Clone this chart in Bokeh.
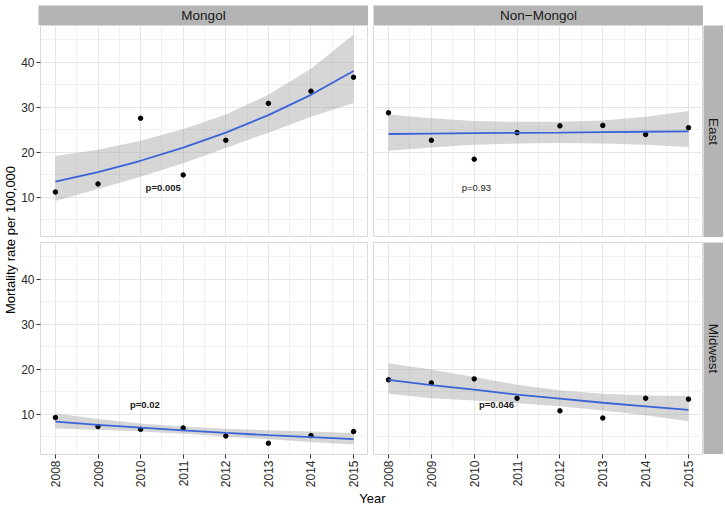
import math
from bokeh.plotting import figure
from bokeh.layouts import row, column
from bokeh.models import Range1d, FixedTicker, Grid, Label, LinearAxis
from bokeh.embed import file_html
from bokeh.resources import INLINE

# ---------------- data ----------------
years = [2008, 2009, 2010, 2011, 2012, 2013, 2014, 2015]

mongol_east = [11.2, 13.0, 27.6, 15.0, 22.7, 30.9, 33.6, 36.7]
mongol_east_fit = [13.5, 15.65, 18.15, 21.05, 24.4, 28.3, 32.8, 38.1]
mongol_east_lo = [9.2, 11.9, 14.6, 17.6, 21.0, 24.4, 27.9, 31.0]
mongol_east_hi = [19.2, 20.6, 22.6, 25.2, 28.4, 32.8, 38.6, 46.2]

nonmongol_east = [28.8, 22.7, 18.5, 24.4, 25.9, 26.0, 24.0, 25.5]
nonmongol_east_fit = [24.1, 24.2, 24.3, 24.35, 24.4, 24.5, 24.6, 24.7]
nonmongol_east_lo = [20.4, 21.1, 21.7, 22.0, 22.1, 22.0, 21.7, 21.2]
nonmongol_east_hi = [28.4, 27.6, 27.0, 26.8, 26.8, 27.1, 27.9, 29.2]

mongol_midwest = [9.3, 7.3, 6.7, 7.0, 5.2, 3.6, 5.3, 6.2]
mongol_midwest_fit = [8.4, 7.7, 7.05, 6.45, 5.9, 5.4, 4.95, 4.5]
mongol_midwest_lo = [6.9, 6.6, 6.2, 5.7, 5.1, 4.5, 3.9, 3.3]
mongol_midwest_hi = [10.2, 9.0, 8.0, 7.3, 6.8, 6.5, 6.2, 5.85]

nonmongol_midwest = [17.7, 17.0, 17.9, 13.6, 10.8, 9.2, 13.6, 13.4]
nonmongol_midwest_fit = [17.7, 16.5, 15.5, 14.4, 13.5, 12.6, 11.8, 11.0]
nonmongol_midwest_lo = [14.6, 13.6, 13.1, 12.5, 11.8, 10.9, 9.8, 8.5]
nonmongol_midwest_hi = [21.4, 20.0, 18.3, 16.6, 15.4, 14.6, 14.2, 14.1]

p_labels = ["p=0.005", "p=0.93", "p=0.02", "p=0.046"]
p_x = [2010.53, 2010.05, 2010.1, 2010.52]
p_y = [12.1, 12.2, 12.2, 12.2]
p_bold = [True, False, True, True]

col_labels = ["Mongol", "Non\u2212Mongol"]
row_labels = ["East", "Midwest"]
y_ticks = [10, 20, 30, 40]
y_minor = [5, 15, 25, 35, 45]
x_minor = [2007.5, 2008.5, 2009.5, 2010.5, 2011.5, 2012.5, 2013.5, 2014.5, 2015.5]

# ---------------- styling ----------------
FONT = "Liberation Sans"
STRIP_BG = "#B4B4B4"
GRID_MAJOR = "#E6E6E6"
GRID_MINOR = "#F0F0F0"
BORDER = "#D9D9D9"
LINE_BLUE = "#3B63D8"
FRAME_W = 330
FRAME_H = 212
AXIS_W = 20
AXIS_H = 36
GAP = 5
YT_W = 18
TOP = 5
STRIP = 20

XR = (2007.65, 2015.35)
YR = (1.1, 48.2)


def bare(w, h, left=0, right=0, top=0, bottom=0, xr=(0, 1), yr=(0, 1)):
    f = figure(width=w, height=h, output_backend="svg", toolbar_location=None,
               x_range=Range1d(*xr), y_range=Range1d(*yr),
               x_axis_location=None, y_axis_location=None,
               min_border=0, min_border_left=left, min_border_right=right,
               min_border_top=top, min_border_bottom=bottom)
    f.renderers = []
    f.center = []
    f.border_fill_color = "white"
    f.background_fill_color = "white"
    f.outline_line_color = None
    return f


def panel(pts, fit, lo, hi, label, bold, lx, ly, left_axis, bottom_axis, gap_left, gap_top):
    left = (AXIS_W if left_axis else 0) + gap_left
    bottom = AXIS_H if bottom_axis else 0
    p = bare(FRAME_W + left, FRAME_H + bottom + gap_top, left=left, top=gap_top,
             bottom=bottom, xr=XR, yr=YR)
    p.outline_line_color = BORDER
    p.outline_line_width = 1
    p.add_layout(Grid(dimension=0, ticker=FixedTicker(ticks=years, minor_ticks=x_minor),
                      grid_line_color=GRID_MAJOR, grid_line_width=1,
                      minor_grid_line_color=GRID_MINOR, minor_grid_line_width=1))
    p.add_layout(Grid(dimension=1, ticker=FixedTicker(ticks=y_ticks, minor_ticks=y_minor),
                      grid_line_color=GRID_MAJOR, grid_line_width=1,
                      minor_grid_line_color=GRID_MINOR, minor_grid_line_width=1))
    if left_axis:
        ax = LinearAxis(ticker=FixedTicker(ticks=y_ticks))
        ax.axis_line_color = None
        ax.major_tick_line_color = "#333333"
        ax.major_tick_out = 4
        ax.major_tick_in = 0
        ax.minor_tick_line_color = None
        ax.major_label_standoff = 2
        ax.major_label_text_font = FONT
        ax.major_label_text_font_size = "12px"
        ax.major_label_text_color = "#2B2B2B"
        p.add_layout(ax, "left")
    if bottom_axis:
        ax = LinearAxis(ticker=FixedTicker(ticks=years))
        ax.axis_line_color = None
        ax.major_tick_line_color = "#333333"
        ax.major_tick_out = 4
        ax.major_tick_in = 0
        ax.minor_tick_line_color = None
        ax.major_label_standoff = 2
        ax.major_label_orientation = math.pi / 2
        ax.major_label_text_font = FONT
        ax.major_label_text_font_size = "12px"
        ax.major_label_text_color = "#2B2B2B"
        p.add_layout(ax, "below")
    p.varea(x=years, y1=lo, y2=hi, fill_color="#999999", fill_alpha=0.4)
    p.scatter(x=years, y=pts, size=4.5, fill_color="black", line_color="black")
    p.line(x=years, y=fit, line_color=LINE_BLUE, line_width=1.8)
    p.add_layout(Label(x=lx, y=ly, text=label, text_font=FONT, text_font_size="9.5px",
                       text_font_style=("bold" if bold else "normal"),
                       text_color="#1A1A1A", text_align="center", text_baseline="middle"))
    return p


def strip(text, w, h, vertical, left=0, top=0):
    s = bare(w + left, h + top, left=left, top=top)
    s.background_fill_color = STRIP_BG
    s.add_layout(Label(x=0.5, y=0.5, text=text, text_font=FONT, text_font_size="13.5px",
                       text_color="#1A1A1A", text_align="center", text_baseline="middle",
                       angle=(-math.pi / 2 if vertical else 0)))
    return s


# panels
tl = panel(mongol_east, mongol_east_fit, mongol_east_lo, mongol_east_hi,
           p_labels[0], p_bold[0], p_x[0], p_y[0], True, False, 0, 0)
tr = panel(nonmongol_east, nonmongol_east_fit, nonmongol_east_lo, nonmongol_east_hi,
           p_labels[1], p_bold[1], p_x[1], p_y[1], False, False, GAP, 0)
bl = panel(mongol_midwest, mongol_midwest_fit, mongol_midwest_lo, mongol_midwest_hi,
           p_labels[2], p_bold[2], p_x[2], p_y[2], True, True, 0, GAP)
br = panel(nonmongol_midwest, nonmongol_midwest_fit, nonmongol_midwest_lo, nonmongol_midwest_hi,
           p_labels[3], p_bold[3], p_x[3], p_y[3], False, True, GAP, GAP)

# strips
s_col1 = strip(col_labels[0], FRAME_W, STRIP, False, left=AXIS_W, top=TOP)
s_col2 = strip(col_labels[1], FRAME_W, STRIP, False, left=GAP, top=TOP)
s_corner = bare(20, TOP + STRIP)
s_row1 = strip(row_labels[0], 20, FRAME_H, True)
s_row2 = strip(row_labels[1], 20, FRAME_H, True, top=GAP)
s_row2_pad = bare(20, AXIS_H)

# axis titles
total_h = TOP + STRIP + FRAME_H + GAP + FRAME_H + AXIS_H + 15
ytitle = bare(YT_W, total_h)
mid_panels = 1 - (TOP + STRIP + FRAME_H + GAP / 2) / total_h
ytitle.add_layout(Label(x=0.55, y=mid_panels, text="Mortality rate per 100,000", text_font=FONT,
                        text_font_size="13px", text_color="black", text_align="center",
                        text_baseline="middle", angle=math.pi / 2))

xtitle_w = AXIS_W + 2 * FRAME_W + GAP + 20
xtitle = bare(xtitle_w, 15)
x_center = (AXIS_W + FRAME_W + GAP / 2 + 1.5) / xtitle_w
xtitle.add_layout(Label(x=x_center, y=0.5, text="Year", text_font=FONT, text_font_size="13px",
                        text_color="black", text_align="center", text_baseline="middle"))

rest = column(
    row(s_col1, s_col2, s_corner, spacing=0),
    row(tl, tr, s_row1, spacing=0),
    row(bl, br, column(s_row2, s_row2_pad, spacing=0), spacing=0),
    xtitle,
    spacing=0,
)
root = row(ytitle, rest, spacing=0)

open("out.html", "w").write(file_html(root, INLINE))
